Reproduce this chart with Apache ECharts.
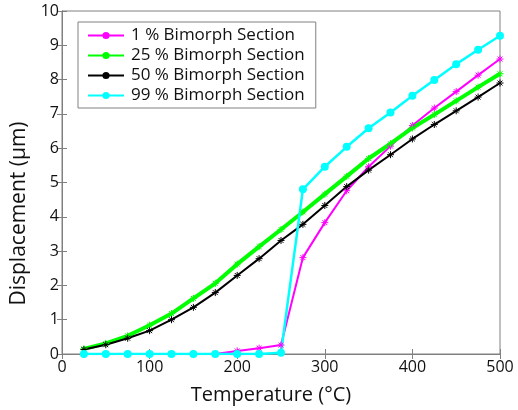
<!DOCTYPE html>
<html>
<head>
<meta charset="utf-8">
<script src="https://cdn.jsdelivr.net/npm/echarts@6/dist/echarts.min.js"></script>
<style>
  html, body { margin: 0; padding: 0; background: #fff; }
  #chart { width: 518px; height: 410px; }
</style>
</head>
<body>
<div id="chart"></div>
<script>
// Temperature (°C) at each simulated point
const temperature = [25, 50, 75, 100, 125, 150, 175, 200, 225, 250, 275, 300, 325, 350, 375, 400, 425, 450, 475, 500];

// Tip displacement (µm) for each bimorph section fraction
const section1 = [0, 0, 0, 0, 0, 0, 0, 0.09, 0.17, 0.26, 2.81, 3.83, 4.76, 5.46, 6.06, 6.66, 7.17, 7.65, 8.13, 8.60];
const section25 = [0.15, 0.31, 0.53, 0.84, 1.18, 1.62, 2.06, 2.62, 3.13, 3.63, 4.14, 4.66, 5.18, 5.70, 6.13, 6.59, 6.98, 7.38, 7.78, 8.17];
const section50 = [0.13, 0.27, 0.46, 0.68, 1.00, 1.36, 1.79, 2.29, 2.78, 3.31, 3.78, 4.33, 4.88, 5.36, 5.81, 6.27, 6.69, 7.09, 7.49, 7.90];
const section99 = [0, 0, 0, 0, 0, 0, 0, 0, 0, 0.04, 4.80, 5.46, 6.04, 6.58, 7.04, 7.53, 7.99, 8.45, 8.87, 9.28];

const seriesNames = ['1 % Bimorph Section', '25 % Bimorph Section', '50 % Bimorph Section', '99 % Bimorph Section'];
const xTicks = [0, 100, 200, 300, 400, 500];
const yTicks = [0, 1, 2, 3, 4, 5, 6, 7, 8, 9, 10];

const FONT = '"Open Sans", "DejaVu Sans", sans-serif';
const AXIS_GRAY = '#808080';
const ASTERISK = 'path://M0,-10L0,10M-10,0L10,0M-7,-7L7,7M-7,7L7,-7';

function pairs(ys) {
  return temperature.map((t, i) => [t, ys[i]]);
}

function curve(name, ys, color, width, symbol, size) {
  const star = symbol === ASTERISK;
  return {
    name: name,
    type: 'line',
    data: pairs(ys),
    symbol: symbol,
    symbolSize: size,
    showAllSymbol: true,
    lineStyle: { color: color, width: width },
    itemStyle: star
      ? { color: 'rgba(0,0,0,0)', borderColor: color, borderWidth: 1 }
      : { color: color, borderWidth: 0 },
    emphasis: { disabled: true },
    animation: false
  };
}

// Empty series that only supply the legend glyphs (line with a filled dot)
function legendKey(name, color) {
  return {
    name: name,
    type: 'line',
    data: [],
    symbol: 'circle',
    lineStyle: { color: color, width: 2 },
    itemStyle: { color: color },
    animation: false
  };
}

const colors = ['#ff00ff', '#00ff00', '#000000', '#00ffff'];

const chart = echarts.init(document.getElementById('chart'), null, { renderer: 'canvas' });

const tickCommon = {
  axisLine: { show: true, lineStyle: { color: AXIS_GRAY, width: 1 } },
  axisTick: { show: true, inside: true, length: 5, lineStyle: { color: AXIS_GRAY } },
  splitLine: { show: false }
};

chart.setOption({
  backgroundColor: '#ffffff',
  animation: false,
  textStyle: { fontFamily: FONT },
  grid: {
    left: 62, right: 18, top: 11, bottom: 55,
    show: true, borderColor: AXIS_GRAY, borderWidth: 1,
    containLabel: false
  },
  legend: {
    data: seriesNames,
    orient: 'vertical',
    left: 78, top: 22,
    padding: [5, 11, 4, 9],
    itemWidth: 36, itemHeight: 9, itemGap: 3,
    backgroundColor: '#ffffff',
    borderColor: AXIS_GRAY, borderWidth: 1, borderRadius: 0,
    selectedMode: false,
    textStyle: { fontFamily: FONT, fontSize: 17, color: '#111', lineHeight: 17, padding: [0, 0, 0, 2] }
  },
  xAxis: [
    Object.assign({
      type: 'value', min: xTicks[0], max: xTicks[xTicks.length - 1], interval: 100,
      position: 'bottom',
      name: 'Temperature (°C)', nameLocation: 'middle', nameGap: 31,
      nameTextStyle: { fontFamily: FONT, fontSize: 20, color: '#111', padding: [0, 20, 0, 0] },
      axisLabel: { fontFamily: FONT, fontSize: 16, color: '#111', margin: 5 }
    }, tickCommon),
    Object.assign({
      type: 'value', min: xTicks[0], max: xTicks[xTicks.length - 1], interval: 100,
      position: 'top', axisLabel: { show: false }
    }, tickCommon)
  ],
  yAxis: [
    Object.assign({
      type: 'value', min: yTicks[0], max: yTicks[yTicks.length - 1], interval: 1,
      position: 'left',
      name: 'Displacement (μm)', nameLocation: 'middle', nameGap: 31,
      nameTextStyle: { fontFamily: FONT, fontSize: 21, color: '#111', padding: [0, 62, 0, 0] },
      axisLabel: { fontFamily: FONT, fontSize: 16, color: '#111', margin: 3 }
    }, tickCommon),
    Object.assign({
      type: 'value', min: yTicks[0], max: yTicks[yTicks.length - 1], interval: 1,
      position: 'right', axisLabel: { show: false }
    }, tickCommon)
  ],
  series: [
    legendKey(seriesNames[0], colors[0]),
    legendKey(seriesNames[1], colors[1]),
    legendKey(seriesNames[2], colors[2]),
    legendKey(seriesNames[3], colors[3]),
    curve(seriesNames[0], section1, colors[0], 2, ASTERISK, 7),
    curve(seriesNames[1], section25, colors[1], 4, ASTERISK, 7),
    curve(seriesNames[2], section50, colors[2], 2, ASTERISK, 7),
    curve(seriesNames[3], section99, colors[3], 2.5, 'circle', 8)
  ]
});
</script>
</body>
</html>
